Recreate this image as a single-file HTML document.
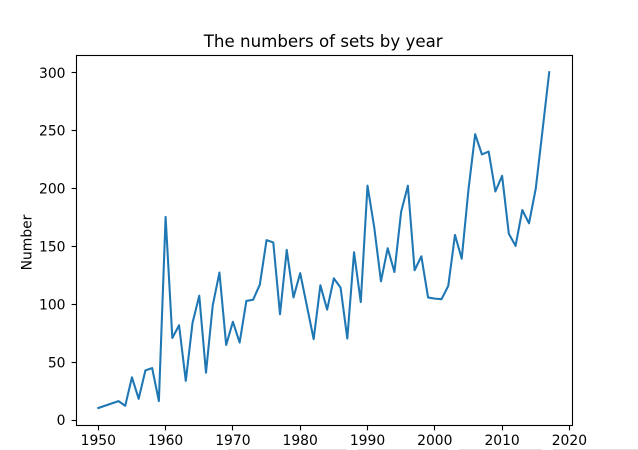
<!DOCTYPE html>
<html lang="en">
<head>
<meta charset="utf-8">
<title>The numbers of sets by year</title>
<style>
html,body{margin:0;padding:0;background:#fff;}
body{width:638px;height:450px;overflow:hidden;}
svg{display:block;}
text{font-family:"DejaVu Sans","Liberation Sans",sans-serif;fill:#000;}
</style>
</head>
<body>
<svg id="chart" xmlns="http://www.w3.org/2000/svg" width="638" height="450" viewBox="0 0 638 450">
  <rect x="0" y="0" width="638" height="450" fill="#fff"/>
  <g id="footer-marks" fill="#dedede">
    <rect x="228" y="449" width="119" height="1"/>
    <rect x="358" y="449" width="90" height="1"/>
    <rect x="459" y="449" width="83" height="1"/>
    <rect x="553" y="449" width="85" height="1"/>
  </g>
  <polyline id="series-line" fill="none" stroke="#1f77b4" stroke-width="2.08" stroke-linejoin="round" stroke-linecap="square"/>
  <g id="x-ticks"></g>
  <g id="y-ticks"></g>
  <rect x="76.5" y="55.5" width="496" height="370" fill="none" stroke="#000" stroke-width="1.11"/>
  <text x="323.2" y="47" text-anchor="middle" font-size="16.67">The numbers of sets by year</text>
  <text x="0" y="0" transform="translate(31.5 242.5) rotate(-90)" text-anchor="middle" font-size="13.89">Number</text>
</svg>
<script>
var years = [1950,1953,1954,1955,1956,1957,1958,1959,1960,1961,1962,1963,1964,1965,1966,1967,1968,1969,1970,1971,1972,1973,1974,1975,1976,1977,1978,1979,1980,1981,1982,1983,1984,1985,1986,1987,1988,1989,1990,1991,1992,1993,1994,1995,1996,1997,1998,1999,2000,2001,2002,2003,2004,2005,2006,2007,2008,2009,2010,2011,2012,2013,2014,2015,2016,2017];
var setCounts = [10.5,16.5,12.5,37,18.5,43,45,16.5,175.5,71,82,34,84,107.5,41,99,127.5,65,85,67,103,104,117,155.5,153.5,91.5,147,106,127,98.5,70,116.5,95.5,122.5,114.5,70.5,145,102,202.5,166.5,120,148.5,128,180,202.5,129.5,141.5,106,105,104.5,116,160,139.5,199,247,229.5,232,197.5,211,161,150.5,181.5,170,200,250,300.5];
var xTickValues = [1950,1960,1970,1980,1990,2000,2010,2020];
var yTickValues = [0,50,100,150,200,250,300];

var SVG_NS = 'http://www.w3.org/2000/svg';
function xScale(year){ return 98.3 + (year - 1950) * 6.73; }
function yScale(value){ return 420.2 - value * 1.158; }

var points = [];
for (var i = 0; i < years.length; i++) {
  points.push(xScale(years[i]).toFixed(2) + ',' + yScale(setCounts[i]).toFixed(2));
}
document.getElementById('series-line').setAttribute('points', points.join(' '));

var xGroup = document.getElementById('x-ticks');
xTickValues.forEach(function(v){
  var x = Math.round(xScale(v) - 0.5) + 0.5;
  var line = document.createElementNS(SVG_NS, 'line');
  
  
  line.setAttribute('x1', x);
  line.setAttribute('x2', x);
  line.setAttribute('y1', 425.5);
  line.setAttribute('y2', 430.4);
  line.setAttribute('stroke', '#000');
  line.setAttribute('stroke-width', '1.11');
  xGroup.appendChild(line);
  var label = document.createElementNS(SVG_NS, 'text');
  
  
  label.setAttribute('x', xScale(v));
  label.setAttribute('y', 445);
  label.setAttribute('text-anchor', 'middle');
  label.setAttribute('font-size', '13.89');
  label.textContent = v;
  xGroup.appendChild(label);
});

var yGroup = document.getElementById('y-ticks');
yTickValues.forEach(function(v){
  var y = Math.round(yScale(v) - 0.5) + 0.5;
  var line = document.createElementNS(SVG_NS, 'line');
  
  
  line.setAttribute('x1', 71.6);
  line.setAttribute('x2', 76.5);
  line.setAttribute('y1', y);
  line.setAttribute('y2', y);
  line.setAttribute('stroke', '#000');
  line.setAttribute('stroke-width', '1.11');
  yGroup.appendChild(line);
  var label = document.createElementNS(SVG_NS, 'text');
  
  
  label.setAttribute('x', 65.5);
  label.setAttribute('y', yScale(v) + 5);
  label.setAttribute('text-anchor', 'end');
  label.setAttribute('font-size', '13.89');
  label.textContent = v;
  yGroup.appendChild(label);
});
</script>
</body>
</html>
